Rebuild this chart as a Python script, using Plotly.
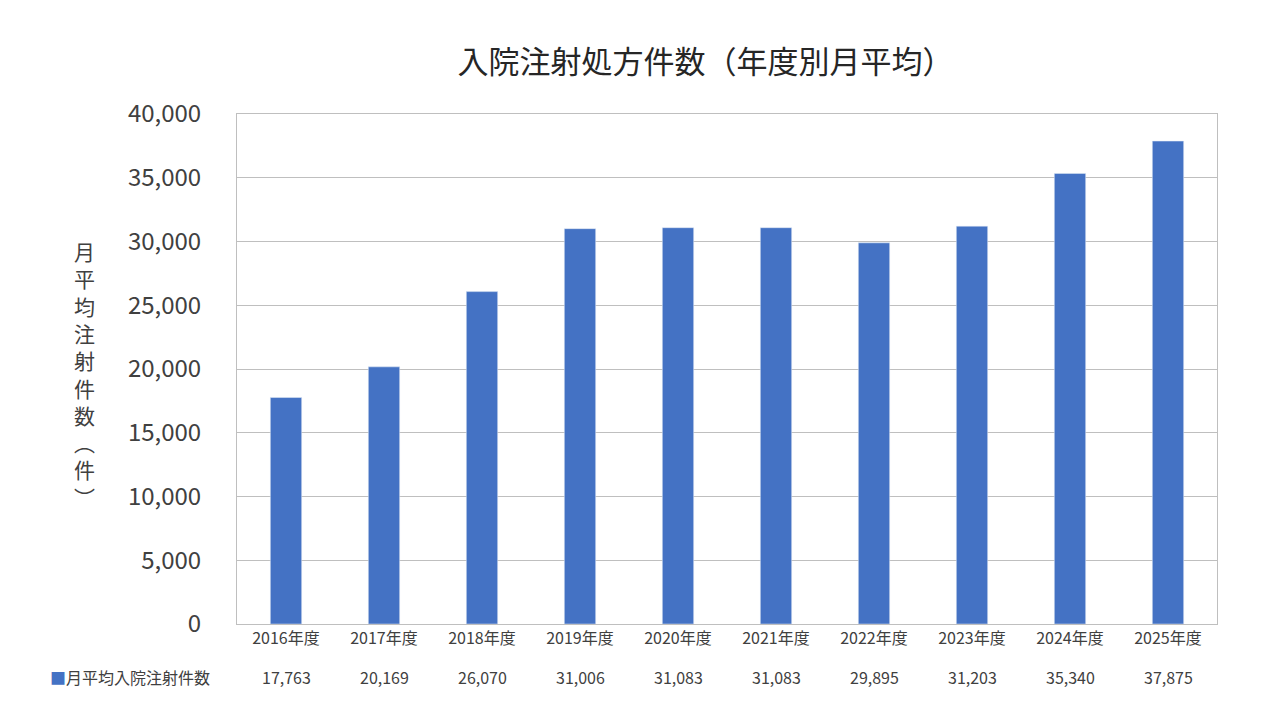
import plotly.graph_objects as go

categories = ["2016年度","2017年度","2018年度","2019年度","2020年度","2021年度","2022年度","2023年度","2024年度","2025年度"]
values = [17763, 20169, 26070, 31006, 31083, 31083, 29895, 31203, 35340, 37875]
series_name = "月平均入院注射件数"
color = "#4472C4"
font = "Noto Sans CJK JP"

fig = go.Figure(go.Bar(x=categories, y=values, marker_color=color, width=0.32))
ann = []
for c, v in zip(categories, values):
    ann.append(dict(x=c, y=-0.104, xref="x", yref="paper", text=f"{v:,}", showarrow=False,
                    font=dict(size=16, color="#404040", family=font), yanchor="middle"))
ann.append(dict(x=-0.193, y=-0.104, xref="paper", yref="paper", xanchor="left", text="<span style='color:%s'>■</span>%s" % (color, series_name),
                showarrow=False, font=dict(size=16, color="#404040", family=font), yanchor="middle"))
ytitle = "<br>".join(list("月平均注射件数") + ["︵", "件", "︶"])
ann.append(dict(x=-0.168, y=0.49, xref="paper", yref="paper", text=ytitle, showarrow=False,
                font=dict(size=21, color="#404040", family=font), yanchor="middle"))
fig.update_layout(
    width=1280, height=720, margin=dict(l=229, r=71, t=106, b=104),
    paper_bgcolor="white", plot_bgcolor="white", showlegend=False,
    title=dict(text="入院注射処方件数（年度別月平均）", x=0.545, xanchor="center", y=0.925, yanchor="middle",
               font=dict(size=31, color="#262626", family=font)),
    xaxis=dict(showline=True, linecolor="#BFBFBF", mirror=True, tickfont=dict(size=16, color="#404040", family=font), ticks=""),
    yaxis=dict(range=[0, 40000], dtick=5000, tickformat=",", showgrid=True, gridcolor="#BFBFBF",
               showline=True, linecolor="#BFBFBF", mirror=True, zeroline=False,
               tickfont=dict(size=24, color="#404040", family=font), ticks="", ticklabelstandoff=30),
    annotations=ann,
)
fig.write_html("out.html")
